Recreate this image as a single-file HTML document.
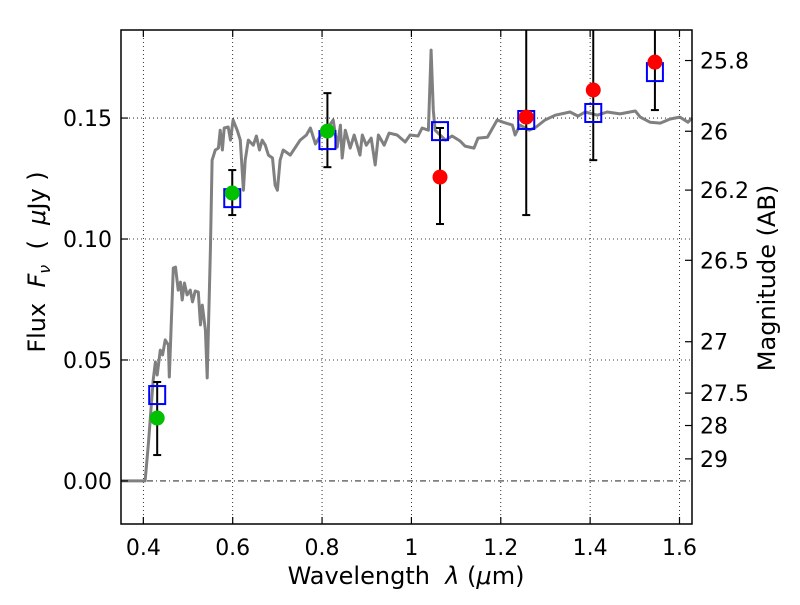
<!DOCTYPE html>
<html><head><meta charset="utf-8"><style>
body{margin:0;background:#fff;}
svg text{font-family:"DejaVu Sans","Liberation Sans",sans-serif;fill:#000;}
</style></head><body>
<svg id="chart" width="800" height="600" viewBox="0 0 800 600" xmlns="http://www.w3.org/2000/svg">
<rect width="800" height="600" fill="#fff"/>
<g id="grid"></g>
<g id="spec"></g>
<g id="marks"></g>
<g id="axes"></g>
</svg>
<script>
const specW=[0.349,0.404,0.411,0.422,0.427,0.431,0.438,0.443,0.449,0.456,0.458,0.467,0.472,0.478,0.483,0.487,0.492,0.498,0.505,0.510,0.516,0.523,0.528,0.532,0.539,0.543,0.550,0.554,0.561,0.568,0.572,0.577,0.581,0.590,0.595,0.601,0.610,0.617,0.624,0.628,0.635,0.646,0.653,0.660,0.666,0.673,0.680,0.689,0.695,0.700,0.706,0.713,0.729,0.751,0.765,0.774,0.785,0.796,0.809,0.825,0.834,0.841,0.845,0.852,0.863,0.872,0.885,0.890,0.899,0.910,0.919,0.926,0.939,0.950,0.968,0.986,0.997,1.015,1.024,1.038,1.044,1.049,1.053,1.076,1.091,1.109,1.120,1.140,1.149,1.170,1.192,1.205,1.226,1.232,1.243,1.264,1.279,1.299,1.322,1.355,1.373,1.389,1.416,1.438,1.467,1.489,1.501,1.512,1.534,1.557,1.579,1.601,1.619,1.628];
const specF=[0,0,0.0149,0.0417,0.0492,0.0438,0.0541,0.0521,0.0583,0.0562,0.0430,0.0880,0.0884,0.0789,0.0822,0.0748,0.0818,0.0769,0.0789,0.0740,0.0785,0.0781,0.0645,0.0727,0.0624,0.0426,0.0955,0.1326,0.1368,0.1376,0.1450,0.1368,0.1459,0.1463,0.1409,0.1492,0.1450,0.1409,0.1202,0.1326,0.1409,0.1388,0.1426,0.1368,0.1409,0.1388,0.1347,0.1335,0.1223,0.1202,0.1326,0.1368,0.1347,0.1409,0.1430,0.1459,0.1393,0.1426,0.1450,0.1492,0.1380,0.1471,0.1335,0.1450,0.1376,0.1430,0.1347,0.1430,0.1388,0.1417,0.1306,0.1430,0.1388,0.1438,0.1430,0.1401,0.1430,0.1426,0.1459,0.1450,0.1781,0.1533,0.1450,0.1409,0.1426,0.1405,0.1384,0.1376,0.1417,0.1421,0.1492,0.1483,0.1471,0.1430,0.1471,0.1450,0.1463,0.1492,0.1512,0.1525,0.1508,0.1525,0.1512,0.1525,0.1517,0.1525,0.1529,0.1504,0.1483,0.1479,0.1496,0.1504,0.1483,0.1500];
const bandW=[0.431,0.599,0.812,1.064,1.257,1.407,1.545];
const modelF=[0.0355,0.1169,0.1409,0.1446,0.1492,0.1521,0.1690];
const obsF=[0.0260,0.1190,0.1446,0.1256,0.1504,0.1616,0.1731];
const errLo=[0.0107,0.1099,0.1297,0.1062,0.1099,0.1326,0.1533];
const errHi=[0.0409,0.1285,0.1603,0.1459,0.25,0.25,0.25];
const obsColor=['#00c000','#00c000','#00c000','#ff0000','#ff0000','#ff0000','#ff0000'];
const xTicks=[0.4,0.6,0.8,1.0,1.2,1.4,1.6];
const xTickLabels=['0.4','0.6','0.8','1','1.2','1.4','1.6'];
const yTicks=[0,0.05,0.10,0.15];
const yTickLabels=['0.00','0.05','0.10','0.15'];
const magTicks=[25.8,26,26.2,26.5,27,27.5,28,29];
const magTickLabels=['25.8','26','26.2','26.5','27','27.5','28','29'];

const L=121,R=692,T=30,B=524,X0=0.35,X1=1.628,Y0=-0.0178,Y1=0.1864;
const sx=w=>L+(w-X0)/(X1-X0)*(R-L);
const sy=f=>B-(f-Y0)/(Y1-Y0)*(B-T);
const NS='http://www.w3.org/2000/svg';
function mk(tag,attrs,parent){const e=document.createElementNS(NS,tag);for(const k in attrs)e.setAttribute(k,attrs[k]);parent.appendChild(e);return e;}
const grid=document.getElementById('grid'),spec=document.getElementById('spec'),marks=document.getElementById('marks'),axes=document.getElementById('axes');
const FS=22,TS=24;
xTicks.forEach((t,i)=>{const x=sx(t);
 let g=mk('line',{x1:x,x2:x,y1:T,y2:B,stroke:'#000','stroke-width':0.8,'stroke-dasharray':'1,3'},grid);
 
 mk('line',{x1:x,x2:x,y1:B,y2:B-7,stroke:'#000','stroke-width':1.2},axes);
 mk('line',{x1:x,x2:x,y1:T,y2:T+7,stroke:'#000','stroke-width':1.2},axes);
 let tx=mk('text',{x:x,y:B+31,'font-size':FS,'text-anchor':'middle'},axes);tx.textContent=xTickLabels[i];
 
});
yTicks.forEach((t,i)=>{const y=sy(t);
 let g=mk('line',{x1:L,x2:R,y1:y,y2:y,stroke:'#000','stroke-width':0.8,'stroke-dasharray':t===0?'6,3,1,3':'1,3'},grid);
 
 mk('line',{x1:L,x2:L+7,y1:y,y2:y,stroke:'#000','stroke-width':1.2},axes);
 let tx=mk('text',{x:L-9,y:y+8,'font-size':FS,'text-anchor':'end'},axes);tx.textContent=yTickLabels[i];
 
});
magTicks.forEach((m,i)=>{const f=Math.pow(10,(23.9-m)/2.5);const y=sy(f);
 mk('line',{x1:R,x2:R-7,y1:y,y2:y,stroke:'#000','stroke-width':1.2},axes);
 let tx=mk('text',{x:R+8,y:y+8,'font-size':FS},axes);tx.textContent=magTickLabels[i];
 
});

let d=specW.map((w,i)=>(i?'L':'M')+sx(w).toFixed(1)+' '+sy(specF[i]).toFixed(1)).join(' ');
let p=mk('path',{d:d,fill:'none',stroke:'#808080','stroke-width':3,'stroke-linejoin':'round'},spec);


bandW.forEach((w,i)=>{const x=sx(w);
 const yl=Math.max(sy(errLo[i]),T),yh=Math.max(sy(errHi[i]),T);
 let e=mk('line',{x1:x,x2:x,y1:yl,y2:yh,stroke:'#000','stroke-width':2},marks);
 
 mk('line',{x1:x-4,x2:x+4,y1:sy(errLo[i]),y2:sy(errLo[i]),stroke:'#000','stroke-width':2},marks);
 if(sy(errHi[i])>T)mk('line',{x1:x-4,x2:x+4,y1:sy(errHi[i]),y2:sy(errHi[i]),stroke:'#000','stroke-width':2},marks);
 let s=mk('rect',{x:x-8,y:sy(modelF[i])-9,width:16,height:18,fill:'none',stroke:'#0000ff','stroke-width':2},marks);
 
 let c=mk('circle',{cx:x,cy:sy(obsF[i]),r:7.5,fill:obsColor[i]},marks);
 
});

let fr=mk('rect',{x:L,y:T,width:R-L,height:B-T,fill:'none',stroke:'#000','stroke-width':1.5},axes);

let xl=mk('text',{x:406,y:584,'font-size':TS,'text-anchor':'middle'},axes);
xl.setAttribute('style','white-space:pre');
xl.innerHTML='Wavelength  <tspan font-style="italic">λ</tspan> (<tspan font-style="italic">μ</tspan>m)';

let yl=mk('text',{x:0,y:0,'font-size':TS,'text-anchor':'middle',transform:'translate(45,262) rotate(-90)'},axes);
yl.setAttribute('style','white-space:pre');
yl.innerHTML='Flux  <tspan font-style="italic">F</tspan><tspan font-style="italic" font-size="16" dy="5">ν</tspan><tspan dy="-5">  (  </tspan><tspan font-style="italic">μ</tspan>Jy )';

let ml=mk('text',{x:0,y:0,'font-size':TS,'text-anchor':'middle',transform:'translate(775,278) rotate(-90)'},axes);
ml.textContent='Magnitude (AB)';

</script>
</body></html>
